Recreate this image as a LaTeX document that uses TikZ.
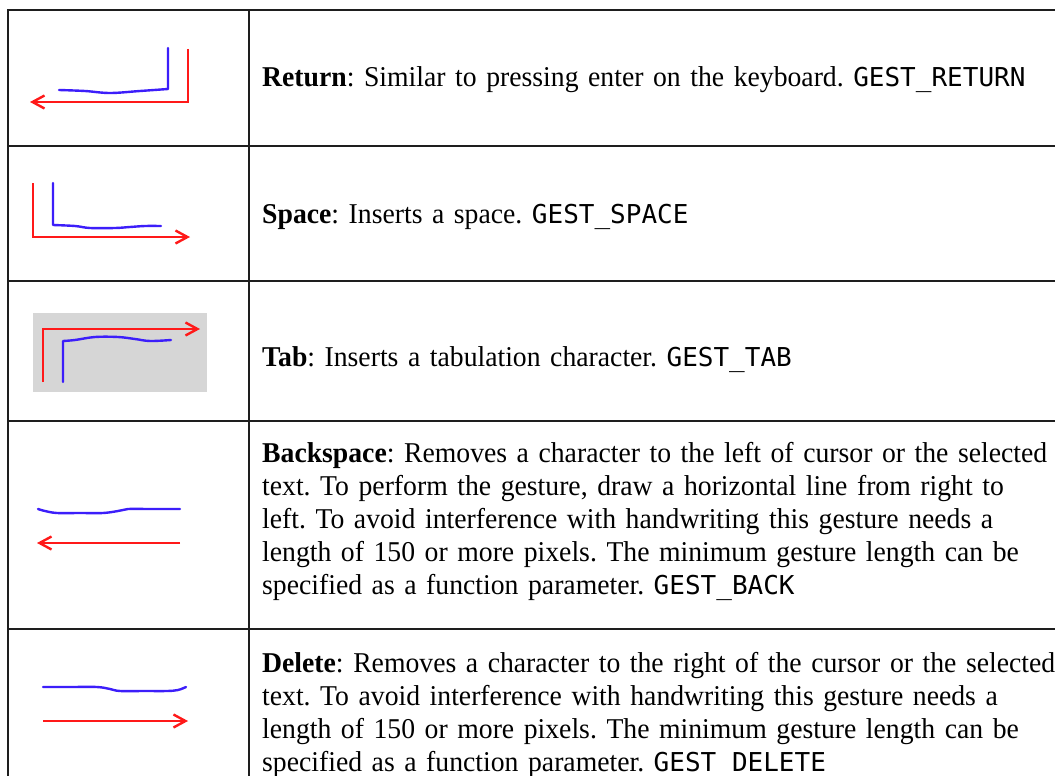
\documentclass[tikz,border=0pt]{standalone}
\usepackage{fontspec}
\setmainfont{Liberation Serif}[FakeStretch=0.965]
\newfontfamily\gestmono{DejaVu Sans Mono}
\usetikzlibrary{arrows.meta}
\definecolor{inkred}{RGB}{255,25,25}
\definecolor{inkblue}{RGB}{60,30,250}
\definecolor{tabgray}{RGB}{214,214,214}
\definecolor{rulecol}{RGB}{30,30,30}
\newcommand{\gcode}[1]{{\gestmono\fontsize{26}{33}\selectfont #1}}
\frenchspacing
\begin{document}
\begin{tikzpicture}[x=1pt,y=-1pt,
  rule/.style={draw=rulecol,line width=1.8pt},
  redstroke/.style={draw=inkred,line width=2.4pt,line join=miter},
  bluestroke/.style={draw=inkblue,line width=2.4pt,line join=round,line cap=round},
  redarrow/.style={redstroke,-{Straight Barb[length=12pt,width=13pt]}},
  desc/.style={anchor=base west,inner sep=0pt,text width=900pt,align=left,font=\fontsize{28.7}{33}\selectfont},
]
\useasboundingbox (0,0) rectangle (1055,776);
\fill[white] (0,0) rectangle (1055,776);
% table rules
\draw[rule] (8,10) -- (1060,10);
\draw[rule] (8,146) -- (1060,146);
\draw[rule] (8,281) -- (1060,281);
\draw[rule] (8,421) -- (1060,421);
\draw[rule] (8,629) -- (1060,629);
\draw[rule] (8,9.1) -- (8,780);
\draw[rule] (249,9.1) -- (249,780);
% Return icon
\draw[bluestroke] (168,48) -- (168,89) -- plot[smooth,tension=0.6] coordinates {(168,89) (140,91) (110,93) (85,91) (59,90)};
\draw[redarrow] (188,49) -- (188,102) -- (30,102);
% Space icon
\draw[redarrow] (33,183) -- (33,237) -- (190,237);
\draw[bluestroke] (53,183) -- (53,225) -- plot[smooth,tension=0.6] coordinates {(53,225) (75,226) (90,228) (115,228) (130,227) (145,226) (161,226)};
% Tab icon
\fill[tabgray] (33,313) rectangle (207,392);
\draw[redarrow] (43,382) -- (43,329) -- (200,329);
\draw[bluestroke] (63,382) -- (63,341) -- plot[smooth,tension=0.6] coordinates {(63,341) (75,340) (95,337) (118,337) (135,339) (150,341) (171,340)};
% Backspace icon
\draw[bluestroke] plot[smooth,tension=0.6] coordinates {(38,509) (45,511) (57,513) (80,513) (103,513) (118,511) (128,509) (150,509) (180,509)};
\draw[redarrow] (180,543) -- (37,543);
% Delete icon
\draw[bluestroke] plot[smooth,tension=0.6] coordinates {(43,687) (70,687) (97,687) (110,689) (120,691) (145,691) (167,691) (178,690) (186,687)};
\draw[redarrow] (43,721) -- (188,721);
% texts
\node[desc] (ret) at (262,86.5) {\textbf{Return}: Similar to pressing enter on the keyboard. \gcode{GEST\_RETURN}};
\node[desc] (spc) at (262,223.5) {\textbf{Space}: Inserts a space. \gcode{GEST\_SPACE}};
\node[desc] (tab) at (262,366.5) {\textbf{Tab}: Inserts a tabulation character. \gcode{GEST\_TAB}};
\node[desc] (bsp) at (262,462.5) {\textbf{Backspace}: Removes a character to the left of cursor or the selected\\
text. To perform the gesture, draw a horizontal line from right to\\
left. To avoid interference with handwriting this gesture needs a\\
length of 150 or more pixels. The minimum gesture length can be\\
specified as a function parameter. \gcode{GEST\_BACK}};
\node[desc] (del) at (262,672.5) {\textbf{Delete}: Removes a character to the right of the cursor or the selected\\
text. To avoid interference with handwriting this gesture needs a\\
length of 150 or more pixels. The minimum gesture length can be\\
specified as a function parameter. \gcode{GEST\_DELETE}};
\end{tikzpicture}
\end{document}
